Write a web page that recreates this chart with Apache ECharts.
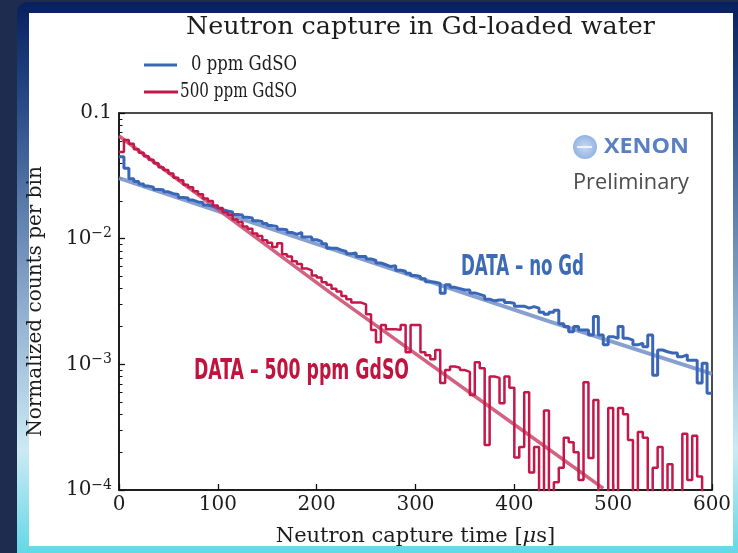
<!DOCTYPE html>
<html>
<head>
<meta charset="utf-8">
<script src="https://cdn.jsdelivr.net/npm/echarts@6/dist/echarts.min.js"></script>
<style>
  html, body { margin: 0; padding: 0; background: #1e2c50; }
  #chart { width: 738px; height: 553px; }
</style>
</head>
<body>
<div id="chart"></div>
<script>
// Histogram binning (µs)
const binWidth = 5;
const binCount = 120;

// Normalized counts per 5 µs bin, 0 ppm GdSO
const noGdCounts = [
  0.0449, 0.0363, 0.0300, 0.0285, 0.0272, 0.0262, 0.0257, 0.0246, 0.0245, 0.0236,
  0.0228, 0.0225, 0.0213, 0.0211, 0.0203, 0.0196, 0.0194, 0.0185, 0.0181, 0.0176,
  0.0170, 0.0166, 0.0163, 0.0156, 0.0154, 0.0148, 0.0146, 0.0139, 0.0137, 0.0132,
  0.0127, 0.0125, 0.0119, 0.0118, 0.0112, 0.0108, 0.0112, 0.0103, 0.0103, 0.0098,
  0.0095, 0.0091, 0.0084, 0.0084, 0.0081, 0.0079, 0.0076, 0.0077, 0.0072, 0.0072,
  0.0069, 0.0067, 0.0064, 0.0062, 0.0060, 0.0061, 0.0056, 0.0055, 0.0053, 0.0051,
  0.0050, 0.0048, 0.00455, 0.0045, 0.00441, 0.00368, 0.0043, 0.0041, 0.0040, 0.0039,
  0.0039, 0.0037, 0.0036, 0.0035, 0.0033, 0.0032, 0.00325, 0.00325, 0.0031, 0.00306,
  0.0029, 0.0029, 0.0028, 0.00288, 0.0028, 0.0026, 0.0025, 0.0026, 0.0027, 0.0021,
  0.0020, 0.00182, 0.0020, 0.00188, 0.00188, 0.00171, 0.0024, 0.00171, 0.00143, 0.00166,
  0.00161, 0.0020, 0.00161, 0.00156, 0.00143, 0.00147, 0.00138, 0.00171, 0.00082, 0.0013,
  0.00126, 0.00123, 0.00123, 0.00115, 0.00119, 0.00108, 0.00108, 0.00071, 0.00102, 0.00059
];

// Normalized counts per 5 µs bin, 500 ppm GdSO (0 = empty bin)
const gd500Counts = [
  0.0490, 0.0610, 0.0570, 0.0515, 0.0482, 0.0452, 0.0425, 0.0399, 0.0370, 0.0352,
  0.0330, 0.0305, 0.0291, 0.0268, 0.0256, 0.0238, 0.0226, 0.0209, 0.0199, 0.0184,
  0.0175, 0.0162, 0.0155, 0.0142, 0.0136, 0.0125, 0.0120, 0.0110, 0.0105, 0.0097,
  0.0093, 0.0086, 0.0092, 0.0075, 0.0072, 0.0066, 0.0063, 0.0058, 0.0056, 0.0051,
  0.0049, 0.0045, 0.0043, 0.0040, 0.0038, 0.0035, 0.0033, 0.0031, 0.0031, 0.0030,
  0.0025, 0.00188, 0.0015, 0.00206, 0.0019, 0.0019, 0.00188, 0.00206, 0.00125, 0.00206,
  0.00206, 0.00125, 0.00118, 0.0011, 0.0013, 0.00071, 0.00090, 0.00096, 0.00094, 0.00090,
  0.00087, 0.00057, 0.00104, 0.00093, 0.000228, 0.00080, 0.00078, 0.00049, 0.00080, 0.00065,
  0.000181, 0.00022, 0.00060, 0.000138, 0.00022, 0, 0.00043, 0, 0.000115, 0.00015,
  0.00026, 0.00024, 0.00020, 0.00012, 0.00072, 0.00018, 0.00052, 0, 0, 0.00045,
  0, 0.00045, 0.00040, 0.00025, 0, 0.00029, 0.00026, 0, 0.00015, 0.00022,
  0, 0.00016, 0, 0, 0.00028, 0.00012, 0.00027, 0.000128, 0, 0
];

// Exponential fits, read at a few times (straight segments on a log axis)
const noGdFit = [[0, 0.0303], [436, 0.00219], [600, 0.00084]];
const gd500Fit = [[0, 0.0656], [214, 0.0037], [436, 0.000208], [490, 0.000103]];

// Axis ticks
const xTicks = [0, 100, 200, 300, 400, 500, 600];
const yMajorTicks = [0.0001, 0.001, 0.01, 0.1];

const BLUE = '#3a66b7';
const RED = '#c4174a';
const SERIF = '"DejaVu Serif", serif';
const TEXT = '#1c1c1c';

// Minor log ticks 2..9 within each decade
const yMinorTicks = [];
for (let d = 0; d < yMajorTicks.length - 1; d++) {
  for (let k = 2; k <= 9; k++) yMinorTicks.push(yMajorTicks[d] * k);
}

const EMPTY = 1e-7; // empty bins fall below the axis floor

function stepData(counts) {
  const pts = counts.map((v, i) => [i * binWidth, v > 0 ? v : EMPTY]);
  const last = counts[counts.length - 1];
  pts.push([binCount * binWidth, last > 0 ? last : EMPTY]);
  return pts;
}

function measure(text, font) {
  const c = document.createElement('canvas').getContext('2d');
  c.font = font;
  return c.measureText(text).width;
}

function fitText(text, font, targetW) {
  return targetW / measure(text, font);
}

const chart = echarts.init(document.getElementById('chart'), null, { renderer: 'canvas' });

const titleText = 'Neutron capture in Gd-loaded water';
const leg0 = '0 ppm GdSO';
const leg500 = '500 ppm GdSO';
const noteBlue = 'DATA – no Gd';
const noteRed = 'DATA – 500 ppm GdSO';
const NARROW = '"Liberation Sans Narrow", "DejaVu Sans Condensed", sans-serif';
const SANS = '"Open Sans", sans-serif';

const option = {
  animation: false,
  backgroundColor: '#1e2c50',
  graphic: [
    // slide frame
    {
      type: 'rect', z: -20, silent: true,
      shape: { x: 17, y: 2, width: 730, height: 560, r: 10 },
      style: {
        fill: new echarts.graphic.LinearGradient(0, 0, 0, 1, [
          { offset: 0, color: '#07205e' },
          { offset: 0.2, color: '#2c4e8a' },
          { offset: 0.55, color: '#90aed0' },
          { offset: 0.8, color: '#cbeaf3' },
          { offset: 1, color: '#5bd6e6' }
        ])
      }
    },
    {
      type: 'rect', z: -19, silent: true,
      shape: { x: 29, y: 13, width: 704, height: 533 },
      style: { fill: '#ffffff' }
    },
    // title
    {
      type: 'text', z: 50, silent: true,
      x: 186, y: 28, scaleX: fitText(titleText, '24px ' + SERIF, 469),
      style: { text: titleText, font: '24px ' + SERIF, fill: TEXT, textVerticalAlign: 'middle' }
    },
    // legend
    { type: 'line', z: 50, shape: { x1: 144, y1: 65, x2: 177, y2: 65 }, style: { stroke: BLUE, lineWidth: 3 } },
    { type: 'line', z: 50, shape: { x1: 144, y1: 92, x2: 178, y2: 92 }, style: { stroke: RED, lineWidth: 3 } },
    {
      type: 'text', z: 50, x: 297, y: 65, scaleX: fitText(leg0, '20px ' + SERIF, 106),
      style: { text: leg0, font: '20px ' + SERIF, fill: TEXT, textAlign: 'right', textVerticalAlign: 'middle' }
    },
    {
      type: 'text', z: 50, x: 297, y: 92, scaleX: fitText(leg500, '20px ' + SERIF, 117),
      style: { text: leg500, font: '20px ' + SERIF, fill: TEXT, textAlign: 'right', textVerticalAlign: 'middle' }
    },
    // XENON mark
    {
      type: 'circle', z: 50, shape: { cx: 585, cy: 147, r: 12 },
      style: {
        fill: new echarts.graphic.RadialGradient(0.5, 0.5, 0.5, [
          { offset: 0, color: '#c9d9f2' },
          { offset: 1, color: '#93b4e4' }
        ])
      }
    },
    { type: 'line', z: 51, shape: { x1: 577, y1: 147, x2: 592, y2: 147 }, style: { stroke: '#eef3fb', lineWidth: 2 } },
    {
      type: 'text', z: 50, x: 604, y: 147, scaleX: fitText('XENON', 'bold 22px ' + SANS, 85),
      style: { text: 'XENON', font: 'bold 22px ' + SANS, fill: '#5a80c4', textVerticalAlign: 'middle' }
    },
    {
      type: 'text', z: 50, x: 573, y: 183, scaleX: fitText('Preliminary', '21px ' + SANS, 116),
      style: { text: 'Preliminary', font: '21px ' + SANS, fill: '#4c4c4c', textVerticalAlign: 'middle' }
    },
    // data annotations
    {
      type: 'text', z: 50, x: 461, y: 268, scaleX: fitText(noteBlue, 'bold 28px ' + NARROW, 123),
      style: { text: noteBlue, font: 'bold 28px ' + NARROW, fill: '#3d6ab4', textVerticalAlign: 'middle' }
    },
    {
      type: 'text', z: 50, x: 194, y: 372, scaleX: fitText(noteRed, 'bold 28px ' + NARROW, 215),
      style: { text: noteRed, font: 'bold 28px ' + NARROW, fill: '#c0143f', textVerticalAlign: 'middle' }
    }
  ],
  grid: {
    left: 119, top: 113, width: 593, height: 377,
    show: true, borderColor: '#111', borderWidth: 1.5, backgroundColor: 'transparent'
  },
  xAxis: {
    type: 'value', min: 0, max: 600, interval: 100,
    name: 'Neutron capture time [{it|μ}s]',
    nameLocation: 'middle', nameGap: 36,
    nameTextStyle: {
      fontFamily: SERIF, fontSize: 21, color: TEXT,
      rich: { it: { fontFamily: SERIF, fontStyle: 'italic', fontSize: 21, color: TEXT } }
    },
    axisLine: { show: true, lineStyle: { color: '#111', width: 1.5 } },
    axisTick: { show: true, inside: true, length: 6, lineStyle: { color: '#111', width: 1.3 } },
    axisLabel: {
      customValues: xTicks,
      fontFamily: SERIF, fontSize: 20, color: TEXT, margin: 5
    },
    splitLine: { show: false }
  },
  yAxis: [
    {
      type: 'log', logBase: 10, min: 0.0001, max: 0.1,
      name: 'Normalized counts per bin',
      nameLocation: 'middle', nameGap: 73, nameRotate: 90,
      nameTextStyle: { fontFamily: SERIF, fontSize: 20, color: TEXT },
      axisLine: { show: true, lineStyle: { color: '#111', width: 1.5 } },
      axisTick: { show: true, inside: true, length: 6, customValues: yMajorTicks, lineStyle: { color: '#111', width: 1.3 } },
      axisLabel: {
        customValues: yMajorTicks,
        margin: 7,
        fontFamily: SERIF, fontSize: 20, color: TEXT,
        formatter: v => {
          const e = Math.round(Math.log10(v));
          return e === -1 ? '0.1' : '10{sup|−' + (-e) + '}';
        },
        rich: { sup: { fontFamily: SERIF, fontSize: 14, color: TEXT, verticalAlign: 'top', padding: [0, 0, 10, 0] } }
      },
      splitLine: { show: false }
    },
    {
      type: 'log', logBase: 10, min: 0.0001, max: 0.1, position: 'left',
      axisLine: { show: false },
      axisTick: { show: true, inside: true, length: 3.5, customValues: yMinorTicks, lineStyle: { color: '#111', width: 1 } },
      axisLabel: { show: false },
      splitLine: { show: false }
    }
  ],
  series: [
    {
      name: '0 ppm GdSO fit', type: 'line', data: noGdFit, showSymbol: false, z: 2,
      lineStyle: { color: '#7a96cb', width: 4, opacity: 0.9 }, clip: true, silent: true
    },
    {
      name: '500 ppm GdSO fit', type: 'line', data: gd500Fit, showSymbol: false, z: 2,
      lineStyle: { color: '#cc5272', width: 3.5, opacity: 0.9 }, clip: true, silent: true
    },
    {
      name: '0 ppm GdSO', type: 'line', step: 'end', data: stepData(noGdCounts), showSymbol: false, z: 3,
      lineStyle: { color: BLUE, width: 3 }, clip: true, silent: true
    },
    {
      name: '500 ppm GdSO', type: 'line', step: 'end', data: stepData(gd500Counts), showSymbol: false, z: 3,
      lineStyle: { color: RED, width: 2.5 }, clip: true, silent: true
    }
  ]
};

chart.setOption(option);
</script>
</body>
</html>
